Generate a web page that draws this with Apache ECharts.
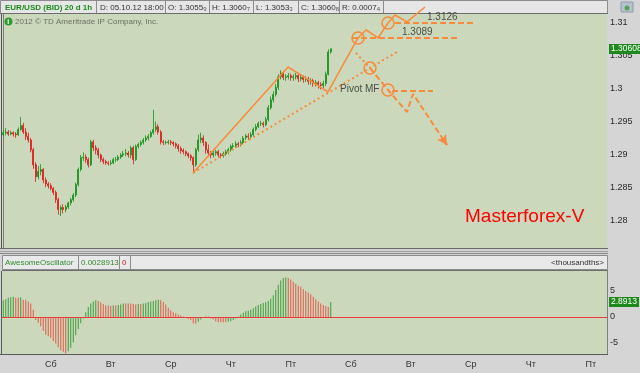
<!DOCTYPE html>
<html><head><meta charset="utf-8">
<script src="https://cdn.jsdelivr.net/npm/echarts@6/dist/echarts.min.js"></script>
<style>html,body{margin:0;padding:0;background:#d5d5d5;overflow:hidden}#c{width:640px;height:373px}</style>
</head><body><div id="c"></div>
<script>
// ---------------- data ----------------
const slotCount = 242;   // hourly slots on the time axis
const dayLabels = ['Сб','Вт','Ср','Чт','Пт','Сб','Вт','Ср','Чт','Пт'];
const dayFirstSlot = 19;
const slotsPerDay = 24;

const opens = [1.2930,1.2933,1.2934,1.2931,1.2933,1.2931,1.2930,1.2938,1.2944,1.2934,
1.2927,1.2922,1.2907,1.2884,1.2866,1.2874,1.2877,1.2861,1.2855,1.2852,
1.2848,1.2842,1.2831,1.2816,1.2819,1.2816,1.2820,1.2826,1.2831,1.2838,
1.2854,1.2877,1.2895,1.2896,1.2892,1.2884,1.2919,1.2910,1.2907,1.2899,
1.2892,1.2889,1.2887,1.2886,1.2887,1.2892,1.2892,1.2896,1.2899,1.2901,
1.2902,1.2899,1.2910,1.2892,1.2912,1.2915,1.2918,1.2922,1.2925,1.2927,
1.2933,1.2938,1.2942,1.2934,1.2919,1.2918,1.2918,1.2919,1.2918,1.2916,
1.2913,1.2909,1.2906,1.2904,1.2901,1.2898,1.2895,1.2884,1.2907,1.2922,
1.2925,1.2918,1.2907,1.2902,1.2899,1.2902,1.2904,1.2899,1.2898,1.2901,
1.2904,1.2907,1.2912,1.2913,1.2916,1.2915,1.2918,1.2925,1.2928,1.2927,
1.2930,1.2938,1.2942,1.2947,1.2947,1.2945,1.2953,1.2971,1.2983,1.2991,
1.3002,1.3018,1.3024,1.3017,1.3018,1.3020,1.3017,1.3018,1.3020,1.3015,
1.3017,1.3014,1.3015,1.3011,1.3012,1.3008,1.3009,1.3006,1.3005,1.3008,
1.3022,1.30559];
const closes = [1.2933,1.2934,1.2931,1.2933,1.2931,1.2930,1.2938,1.2944,1.2934,1.2927,
1.2922,1.2907,1.2884,1.2866,1.2874,1.2877,1.2861,1.2855,1.2852,1.2848,
1.2842,1.2831,1.2816,1.2819,1.2816,1.2820,1.2826,1.2831,1.2838,1.2854,
1.2877,1.2895,1.2896,1.2892,1.2884,1.2919,1.2910,1.2907,1.2899,1.2892,
1.2889,1.2887,1.2886,1.2887,1.2892,1.2892,1.2896,1.2899,1.2901,1.2902,
1.2899,1.2910,1.2892,1.2912,1.2915,1.2918,1.2922,1.2925,1.2927,1.2933,
1.2938,1.2942,1.2934,1.2919,1.2918,1.2918,1.2919,1.2918,1.2916,1.2913,
1.2909,1.2906,1.2904,1.2901,1.2898,1.2895,1.2884,1.2907,1.2922,1.2925,
1.2918,1.2907,1.2902,1.2899,1.2902,1.2904,1.2899,1.2898,1.2901,1.2904,
1.2907,1.2912,1.2913,1.2916,1.2915,1.2918,1.2925,1.2928,1.2927,1.2930,
1.2938,1.2942,1.2947,1.2947,1.2945,1.2953,1.2971,1.2983,1.2991,1.3002,
1.3018,1.3024,1.3017,1.3018,1.3020,1.3017,1.3018,1.3020,1.3015,1.3017,
1.3014,1.3015,1.3011,1.3012,1.3008,1.3009,1.3006,1.3005,1.3008,1.3022,
1.30559,1.30608];
const lows = [1.2927,1.2929,1.2928,1.2929,1.2927,1.2925,1.2928,1.2936,1.2931,1.2922,
1.2918,1.2903,1.2878,1.2858,1.2862,1.2868,1.2856,1.2850,1.2848,1.2845,
1.2838,1.2826,1.2808,1.2806,1.2810,1.2812,1.2817,1.2822,1.2828,1.2835,
1.2851,1.2874,1.2890,1.2887,1.2880,1.2882,1.2905,1.2900,1.2894,1.2888,
1.2885,1.2884,1.2883,1.2883,1.2885,1.2888,1.2890,1.2893,1.2896,1.2897,
1.2895,1.2894,1.2885,1.2890,1.2909,1.2912,1.2915,1.2919,1.2921,1.2925,
1.2930,1.2934,1.2930,1.2915,1.2914,1.2915,1.2915,1.2914,1.2912,1.2909,
1.2904,1.2901,1.2900,1.2897,1.2894,1.2890,1.2872,1.2881,1.2904,1.2917,
1.2913,1.2901,1.2897,1.2894,1.2895,1.2898,1.2895,1.2894,1.2895,1.2898,
1.2900,1.2904,1.2908,1.2910,1.2911,1.2912,1.2915,1.2922,1.2922,1.2924,
1.2928,1.2935,1.2940,1.2943,1.2941,1.2943,1.2950,1.2968,1.2979,1.2988,
1.2998,1.3014,1.3013,1.3012,1.3014,1.3012,1.3012,1.3014,1.3010,1.3011,
1.3009,1.3010,1.3006,1.3006,1.3003,1.3003,1.3000,1.2999,1.3001,1.3004,
1.3020,1.30533];
const highs = [1.2937,1.2940,1.2937,1.2936,1.2935,1.2934,1.2941,1.2957,1.2948,1.2940,
1.2933,1.2925,1.2910,1.2888,1.2882,1.2885,1.2879,1.2865,1.2858,1.2856,
1.2850,1.2845,1.2834,1.2822,1.2824,1.2823,1.2828,1.2834,1.2841,1.2857,
1.2880,1.2899,1.2903,1.2900,1.2895,1.2922,1.2922,1.2914,1.2910,1.2901,
1.2895,1.2892,1.2890,1.2891,1.2895,1.2896,1.2899,1.2902,1.2905,1.2908,
1.2905,1.2913,1.2913,1.2915,1.2918,1.2921,1.2925,1.2929,1.2931,1.2936,
1.2968,1.2950,1.2946,1.2937,1.2922,1.2921,1.2922,1.2922,1.2920,1.2918,
1.2916,1.2912,1.2909,1.2906,1.2903,1.2900,1.2897,1.2910,1.2930,1.2933,
1.2929,1.2920,1.2915,1.2905,1.2906,1.2907,1.2907,1.2902,1.2904,1.2907,
1.2910,1.2915,1.2917,1.2920,1.2919,1.2922,1.2928,1.2931,1.2932,1.2934,
1.2941,1.2946,1.2950,1.2951,1.2950,1.2957,1.2975,1.2988,1.2996,1.3007,
1.3022,1.3028,1.3027,1.3022,1.3024,1.3023,1.3022,1.3024,1.3023,1.3021,
1.3020,1.3019,1.3018,1.3016,1.3015,1.3013,1.3012,1.3010,1.3012,1.3026,
1.3060,1.30608];

// Awesome Oscillator, thousandths
const aoValues = [3.2,3.4,3.7,3.8,3.9,3.7,3.7,3.8,3.3,3.3,
3.0,2.6,1.4,-0.6,-1.1,-1.8,-2.7,-3.4,-3.7,-4.0,
-4.6,-5.1,-5.8,-6.4,-6.7,-7.0,-6.6,-5.9,-4.9,-3.5,
-2.3,-1.2,-0.3,0.9,1.9,2.6,3.0,3.2,3.1,2.8,
2.5,2.2,2.2,2.1,2.2,2.2,2.3,2.4,2.6,2.6,
2.6,2.6,2.5,2.4,2.5,2.5,2.6,2.7,2.9,3.0,
3.1,3.2,3.3,3.2,2.9,2.4,1.8,1.3,0.9,0.7,
0.5,0.3,0.1,-0.2,-0.4,-0.6,-1.2,-1.3,-0.9,-0.5,
-0.2,0.1,0.1,-0.3,-0.5,-0.8,-1.0,-1.0,-1.0,-1.0,
-0.9,-0.8,-0.6,-0.3,0.1,0.5,0.8,1.1,1.2,1.4,
1.7,2.0,2.3,2.5,2.7,2.9,3.1,3.5,4.2,5.2,
6.2,7.0,7.5,7.6,7.5,7.2,6.8,6.4,6.0,5.8,
5.4,5.0,4.7,4.4,3.9,3.4,3.0,2.6,2.3,2.1,
1.9,2.8913];

// hand-drawn projection (slot index, price)
const solidPath = [[75.9,1.28716],[113.9,1.30330],[129.9,1.29950],[141.9,1.30772],[145.1,1.30894],[149.9,1.30772],[153.9,1.31000],[156.7,1.31122],[161.5,1.31016],[168.7,1.31244]];
const supportDotted = [[75.9,1.28716],[157.5,1.30559]];
const fallDotted = [[141.1,1.30544],[146.7,1.30315]];
const fallDashed = [[146.7,1.30315],[153.9,1.29980],[161.5,1.29645],[163.9,1.29919],[177.5,1.29143]];
const levelHigh = [[156.7,1.31000],[188.7,1.31000]];
const levelMid = [[139.5,1.30772],[181.5,1.30772]];
const levelPivot = [[155.5,1.29965],[171.9,1.29965]];
const circlePts = [[141.9,1.30772],[153.9,1.31000],[146.7,1.30315],[153.9,1.29980]];
const levelLabels = ['1.3126','1.3089','Pivot MF'];
const levelLabelPts = [[169.5,1.31092],[159.5,1.30863],[134.7,1.29988]];

const priceMin = 1.27574, priceMax = 1.31137;
const aoMin = -7.12, aoMax = 8.85;

// ---------------- build ----------------
const ORANGE = '#fa8a3c';
const UP = '#17901a', DOWN = '#e01b1b';
const cats = [];
for (let i = 0; i < slotCount; i++) cats.push('h' + i);
function dayOf(i) {
  if (i < dayFirstSlot || (i - dayFirstSlot) % slotsPerDay) return '';
  return dayLabels[(i - dayFirstSlot) / slotsPerDay] || '';
}
const candleData = opens.map((o, i) => [o, closes[i], lows[i], highs[i]]);
const aoData = aoValues.map((v, i) => ({
  value: v,
  itemStyle: { color: (i === 0 || v > aoValues[i - 1]) ? '#3d9e3d' : '#e4584c' }
}));

function annLine(data, type, width, arrow) {
  const s = {
    type: 'line', xAxisIndex: 2, yAxisIndex: 0, data: data, symbol: 'none', clip: false,
    silent: true, z: 6, animation: false,
    lineStyle: { color: ORANGE, width: width, type: type, cap: 'butt' }
  };
  if (arrow) {
    const a = data[data.length - 2], b = data[data.length - 1];
    // short stub right at the tip, only to carry the arrow head
    const t = [a[0] + (b[0] - a[0]) * 0.9, a[1] + (b[1] - a[1]) * 0.9];
    s.markLine = {
      silent: true, symbol: ['none', 'arrow'], symbolSize: [8, 10], label: { show: false },
      lineStyle: { color: ORANGE, width: width, type: 'solid' },
      data: [[{ coord: t }, { coord: b }]]
    };
  }
  return s;
}

const chart = echarts.init(document.getElementById('c'), null, { renderer: 'canvas', width: 640, height: 373 });

const option = {
  animation: false,
  backgroundColor: '#d5d5d5',
  textStyle: { fontFamily: 'Arial' },
  grid: [
    { left: 2, right: 33, top: 14, height: 234, show: true, backgroundColor: '#cbd8bb', borderWidth: 0 },
    { left: 2, right: 33, top: 271, height: 83, show: true, backgroundColor: '#cbd8bb', borderWidth: 0 }
  ],
  xAxis: [
    { type: 'category', gridIndex: 0, data: cats, show: false, boundaryGap: true },
    { type: 'category', gridIndex: 1, data: cats, boundaryGap: true,
      axisLine: { show: false }, axisTick: { show: false }, splitLine: { show: false },
      axisLabel: { interval: (i) => dayOf(i) !== '', formatter: (v, i) => dayOf(i),
        fontSize: 9, color: '#333', margin: 6, fontFamily: 'Arial' } },
    { type: 'value', gridIndex: 0, min: -0.5, max: slotCount - 0.5, show: false }
  ],
  yAxis: [
    { type: 'value', gridIndex: 0, position: 'right', min: priceMin, max: priceMax, splitNumber: 7,
      axisLine: { show: true, lineStyle: { color: '#7d7d7d' } }, axisTick: { show: false }, splitLine: { show: false },
      axisLabel: { fontSize: 9, color: '#2a2a2a', margin: 3, showMinLabel: false, showMaxLabel: false,
        formatter: v => String(+v.toFixed(4)), fontFamily: 'Arial' } },
    { type: 'value', gridIndex: 1, position: 'right', min: aoMin, max: aoMax, splitNumber: 3,
      axisLine: { show: true, lineStyle: { color: '#7d7d7d' } }, axisTick: { show: false }, splitLine: { show: false },
      axisLabel: { fontSize: 9, color: '#2a2a2a', margin: 3, showMinLabel: false, showMaxLabel: false,
        formatter: v => String(+v.toFixed(2)), fontFamily: 'Arial' } }
  ],
  series: [
    { type: 'candlestick', xAxisIndex: 0, yAxisIndex: 0, data: candleData, barWidth: 1.6,
      itemStyle: { color: UP, color0: DOWN, borderColor: UP, borderColor0: DOWN, borderWidth: 0.8 } },
    { type: 'bar', xAxisIndex: 1, yAxisIndex: 1, data: aoData, barWidth: 1,
      markLine: { silent: true, symbol: 'none', label: { show: false },
        lineStyle: { color: '#ee3a3a', width: 1, type: 'solid' }, data: [{ yAxis: 0 }] } },
    annLine(supportDotted, [2, 3], 2, false),
    annLine(fallDotted, [2, 3], 2, false),
    annLine(levelHigh, [6, 3], 2, false),
    annLine(levelMid, [6, 3], 2, false),
    annLine(levelPivot, [6, 3], 2, false),
    annLine(fallDashed, [6, 3], 2, true),
    annLine(solidPath, 'solid', 1.5, true),
    { type: 'scatter', xAxisIndex: 2, yAxisIndex: 0, data: circlePts, symbol: 'circle', symbolSize: 12,
      clip: false, silent: true, z: 7,
      itemStyle: { color: 'rgba(0,0,0,0)', borderColor: ORANGE, borderWidth: 1.5, opacity: 1 } },
    { type: 'scatter', xAxisIndex: 2, yAxisIndex: 0, clip: false, silent: true, z: 8, symbolSize: 0,
      data: levelLabelPts.map((p, i) => ({ value: p, name: levelLabels[i] })),
      label: { show: true, position: 'right', distance: 0, formatter: p => p.name,
        fontSize: 10, color: '#2a2a2a', fontFamily: 'Arial' } }
  ]
};
chart.setOption(option);

// ---------------- chrome (header bars, labels) ----------------
const yClose = chart.convertToPixel({ yAxisIndex: 0 }, closes[closes.length - 1]);
const yAo = chart.convertToPixel({ yAxisIndex: 1 }, aoValues[aoValues.length - 1]);

const g = [];
function rect(x, y, w, h, fill, stroke, z) {
  g.push({ type: 'rect', shape: { x, y, width: w, height: h }, z: z || 1,
    style: { fill: fill, stroke: stroke || null, lineWidth: 1 }, silent: true });
}
function line(x1, y1, x2, y2, c, z) {
  g.push({ type: 'line', shape: { x1, y1, x2, y2 }, z: z || 1, style: { stroke: c, lineWidth: 1 }, silent: true });
}
function text(x, y, t, size, color, opts) {
  g.push(Object.assign({ type: 'text', x: x, y: y, z: (opts && opts.z) || 3, silent: true,
    style: Object.assign({ text: t, fontSize: size, fill: color, fontFamily: 'Arial',
      verticalAlign: 'middle', align: 'left' }, (opts && opts.style) || {}) }));
}

// top header
rect(0.5, 0.5, 607, 13, '#e6e6e6', '#8c8c8c');
const hdrSep = [96, 165, 209, 253, 298, 339, 383];
hdrSep.forEach(x => line(x + 0.5, 0, x + 0.5, 14, '#8c8c8c'));
line(0, 13.5, 608, 13.5, '#6e6e6e');
text(5, 7.5, 'EUR/USD (BID) 20 d 1h', 8, '#1c8c1c', { style: { fontWeight: 'bold' } });
text(100, 7.5, 'D: 05.10.12 18:00', 8, '#333');
const hdrVals = [[168, 'O: 1.3055', '9'], [212, 'H: 1.3060', '7'], [256, 'L: 1.3053', '3'], [301, 'C: 1.3060', '8'], [342, 'R: 0.0007', '4']];
hdrVals.forEach(v => {
  g.push({ type: 'text', x: v[0], y: 7.5, z: 3, silent: true,
    style: { text: '{a|' + v[1] + '}{b|' + v[2] + '}', verticalAlign: 'middle', align: 'left',
      rich: { a: { fontSize: 8, fill: '#333', fontFamily: 'Arial' }, b: { fontSize: 6, fill: '#555', fontFamily: 'Arial', padding: [3, 0, 0, 0] } } } });
});
rect(621, 2, 12, 10, '#b7c2cf', '#8e9aaa');
g.push({ type: 'circle', shape: { cx: 627, cy: 8, r: 2.5 }, z: 3, style: { fill: '#5aa05a' }, silent: true });

// copyright line
g.push({ type: 'circle', shape: { cx: 8.5, cy: 21.5, r: 4 }, z: 3, style: { fill: '#2f9a2f' }, silent: true });
text(7.3, 21.8, 'i', 7, '#fff', { z: 4, style: { fontWeight: 'bold' } });
text(15, 21.5, '2012 © TD Ameritrade IP Company, Inc.', 8, '#6b6f66');

// borders & separator
line(1.5, 14, 1.5, 248, '#5a5a5a');
line(0, 248.5, 608, 248.5, '#6a6a6a');
rect(0, 249, 608, 6, '#d2d2d2');
line(0, 251.5, 608, 251.5, '#a0a0a0');
line(0, 253.5, 608, 253.5, '#8a8a8a');

// oscillator header
rect(2.5, 255.5, 605, 14, '#e9e9e9', '#8c8c8c');
[78, 119, 130].forEach(x => line(x + 0.5, 256, x + 0.5, 270, '#8c8c8c'));
line(2, 270.5, 608, 270.5, '#6e6e6e');
text(5, 263, 'AwesomeOscillator', 8, '#2e8b2e');
text(81, 263, '0.0028913', 8, '#2e8b2e');
text(122, 263, '0', 8, '#e02020');
text(604, 263, '<thousandths>', 8, '#333', { style: { align: 'right' } });
line(1.5, 271, 1.5, 354, '#5a5a5a');
line(0, 354.5, 608, 354.5, '#5a5a5a');

// title text
text(465, 217, 'Masterforex-V', 19, '#ff0000');

// last value tags on the right axis
rect(609, Math.round(yClose) - 5, 31, 10, '#1e8a1e', null, 5);
text(611, Math.round(yClose), '1.30608', 8.5, '#ffffff', { z: 6 });
rect(609, Math.round(yAo) - 5, 30, 10, '#1e8a1e', null, 5);
text(611, Math.round(yAo), String(aoValues[aoValues.length - 1]), 8.5, '#ffffff', { z: 6 });

chart.setOption({ graphic: { elements: g } });
</script>
</body></html>
